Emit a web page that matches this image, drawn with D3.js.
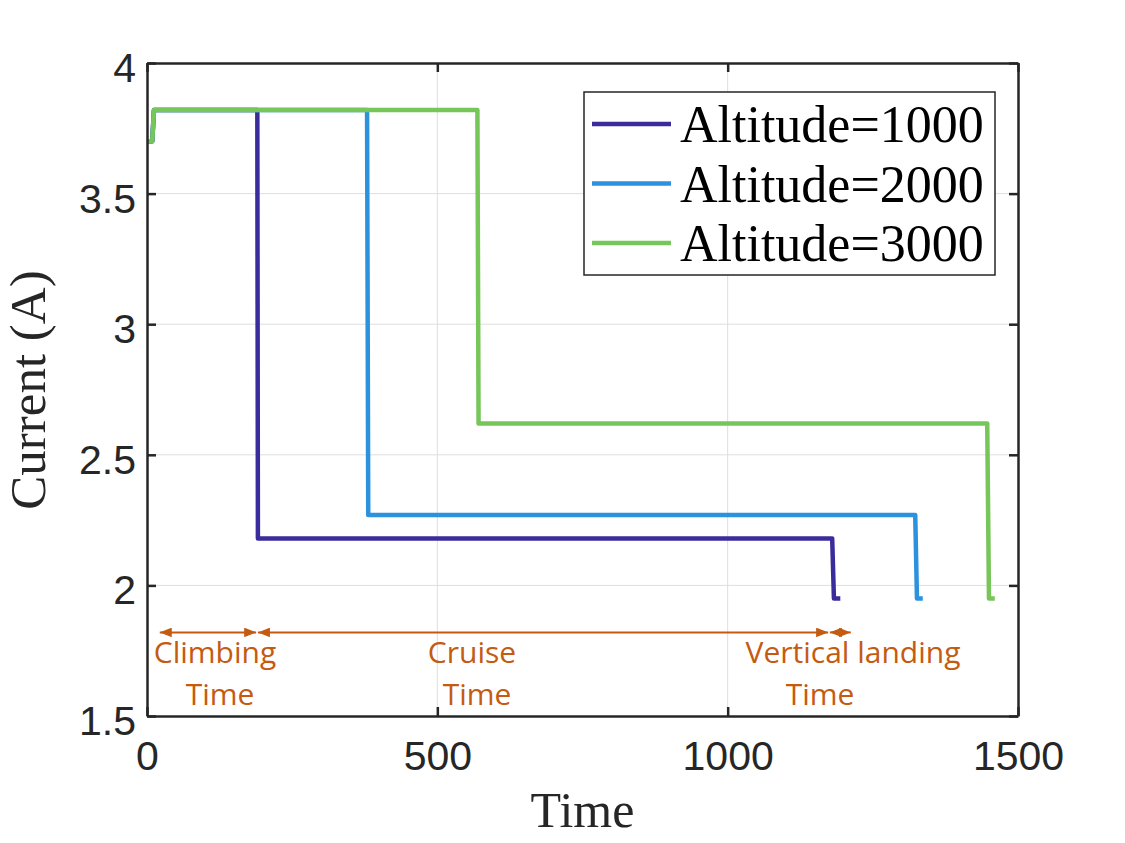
<!DOCTYPE html>
<html>
<head>
<meta charset="utf-8">
<script src="https://cdn.jsdelivr.net/npm/d3@7"></script>
<style>
  html, body { margin: 0; padding: 0; background: #fff; }
  svg { display: block; }
</style>
</head>
<body>
<div id="chart"></div>
<script>
// Series labels and colours
const seriesNames = ["Altitude=1000", "Altitude=2000", "Altitude=3000"];
const seriesColors = ["#3a2c9c", "#2d92dd", "#77c65a"];

// Time / current samples (step profiles)
const time1000 = [0, 9, 12, 190, 191, 1180, 1183, 1194];
const curr1000 = [3.70, 3.70, 3.82, 3.82, 2.18, 2.18, 1.95, 1.95];
const time2000 = [0, 9, 12, 379, 381, 1323, 1326, 1336];
const curr2000 = [3.70, 3.70, 3.82, 3.82, 2.27, 2.27, 1.95, 1.95];
const time3000 = [0, 9, 12, 569, 571, 1447, 1450, 1460];
const curr3000 = [3.70, 3.70, 3.82, 3.82, 2.62, 2.62, 1.95, 1.95];

// Axis ticks
const xTicks = [0, 500, 1000, 1500];
const yTicks = [1.5, 2, 2.5, 3, 3.5, 4];

// Phase annotations (arrow start/end in time units, label lines)
const phaseStart = [22, 191, 1176];
const phaseEnd = [188, 1173, 1212];
const phaseLabels = [["Climbing", "Time"], ["Cruise", "Time"], ["Vertical landing", "Time"]];

const W = 1125, H = 843;
const margin = {left: 147, top: 63, right: 107, bottom: 127};
const iw = W - margin.left - margin.right;
const ih = H - margin.top - margin.bottom;

const svg = d3.select("#chart").append("svg")
  .attr("width", W)
  .attr("height", H);

const g = svg.append("g")
  .attr("transform", `translate(${margin.left},${margin.top})`);

const x = d3.scaleLinear().domain([0, 1500]).range([0, iw]);
const y = d3.scaleLinear().domain([1.5, 4]).range([ih, 0]);

// grid
g.append("g").selectAll("line").data(xTicks.slice(1, -1)).enter()
  .append("line")
  .attr("x1", d => x(d)).attr("x2", d => x(d))
  .attr("y1", 0).attr("y2", ih)
  .attr("stroke", "#dedede").attr("stroke-width", 1);
g.append("g").selectAll("line").data(yTicks.slice(1, -1)).enter()
  .append("line")
  .attr("y1", d => y(d)).attr("y2", d => y(d))
  .attr("x1", 0).attr("x2", iw)
  .attr("stroke", "#dedede").attr("stroke-width", 1);

// series
const allSeries = [
  d3.zip(time1000, curr1000),
  d3.zip(time2000, curr2000),
  d3.zip(time3000, curr3000)
];
const line = d3.line().x(d => x(d[0])).y(d => y(d[1]));
g.append("g").selectAll("path").data(allSeries).enter()
  .append("path")
  .attr("d", line)
  .attr("fill", "none")
  .attr("stroke", (d, i) => seriesColors[i])
  .attr("stroke-width", 4.5)
  .attr("stroke-linejoin", "round")
  .attr("stroke-linecap", "butt");

// axes, matlab style box with inward ticks on all sides
const tickLen = 9;
const fmt = d => d3.format("")(d);
const xAxB = d3.axisBottom(x).tickValues(xTicks).tickSizeInner(-tickLen).tickSizeOuter(0).tickPadding(25).tickFormat(fmt);
const xAxT = d3.axisTop(x).tickValues(xTicks).tickSizeInner(-tickLen).tickSizeOuter(0).tickFormat("");
const yAxL = d3.axisLeft(y).tickValues(yTicks).tickSizeInner(-tickLen).tickSizeOuter(0).tickPadding(11).tickFormat(fmt);
const yAxR = d3.axisRight(y).tickValues(yTicks).tickSizeInner(-tickLen).tickSizeOuter(0).tickFormat("");

const axes = [
  g.append("g").attr("transform", `translate(0,${ih})`).call(xAxB),
  g.append("g").call(xAxT),
  g.append("g").call(yAxL),
  g.append("g").attr("transform", `translate(${iw},0)`).call(yAxR)
];
axes.forEach(a => {
  a.select(".domain").attr("stroke", "#262626").attr("stroke-width", 2.5);
  a.selectAll(".tick line").attr("stroke", "#262626").attr("stroke-width", 2.5);
  a.selectAll(".tick text")
    .attr("fill", "#262626")
    .attr("font-family", "'Liberation Sans', Arial, sans-serif")
    .attr("font-size", 41);
});
axes[2].selectAll(".tick text").attr("dy", "0.45em");

// axis titles
svg.append("text")
  .attr("x", margin.left + x(750))
  .attr("y", 827)
  .attr("text-anchor", "middle")
  .attr("font-family", "'Liberation Serif', 'Times New Roman', serif")
  .attr("font-size", 50)
  .attr("fill", "#262626")
  .text("Time");
svg.append("text")
  .attr("transform", `translate(45,${390}) rotate(-90)`)
  .attr("text-anchor", "middle")
  .attr("font-family", "'Liberation Serif', 'Times New Roman', serif")
  .attr("font-size", 51)
  .attr("fill", "#262626")
  .text("Current (A)");

// legend
const legend = svg.append("g").attr("transform", "translate(584,92)");
legend.append("rect")
  .attr("width", 411).attr("height", 183)
  .attr("fill", "#fff")
  .attr("stroke", "#262626").attr("stroke-width", 1.5);
const rows = legend.selectAll(".row").data(seriesNames).enter()
  .append("g")
  .attr("transform", (d, i) => `translate(0,${32 + i * 59.5})`);
rows.append("line")
  .attr("x1", 8).attr("x2", 87)
  .attr("stroke", (d, i) => seriesColors[i])
  .attr("stroke-width", 4.5);
rows.append("text")
  .attr("x", 96).attr("y", 18)
  .attr("font-family", "'Liberation Serif', 'Times New Roman', serif")
  .attr("font-size", 52)
  .attr("fill", "#000")
  .text(d => d);

// phase annotations
const orange = "#c55a11";
const defs = svg.append("defs");
defs.append("marker")
  .attr("id", "ah")
  .attr("viewBox", "0 0 10 8")
  .attr("refX", 10).attr("refY", 4)
  .attr("markerWidth", 6).attr("markerHeight", 4.8)
  .attr("markerUnits", "strokeWidth")
  .attr("orient", "auto-start-reverse")
  .append("path")
  .attr("d", "M0,0 L10,4 L0,8 Z")
  .attr("fill", orange);

const arrowY = y(1.82);
const ann = g.append("g");
ann.selectAll("line").data(phaseStart).enter()
  .append("line")
  .attr("x1", d => x(d))
  .attr("x2", (d, i) => x(phaseEnd[i]))
  .attr("y1", arrowY).attr("y2", arrowY)
  .attr("stroke", orange)
  .attr("stroke-width", 2)
  .attr("marker-start", "url(#ah)")
  .attr("marker-end", "url(#ah)");

const labelX = [215, 472, 853];
const labelX2 = [220, 477, 820];
const annFont = "'Open Sans', Lato, sans-serif";
phaseLabels.forEach((lab, i) => {
  svg.append("text")
    .attr("x", labelX[i]).attr("y", 663)
    .attr("text-anchor", "middle")
    .attr("font-family", annFont)
    .attr("font-size", 30)
    .attr("fill", orange)
    .text(lab[0]);
  svg.append("text")
    .attr("x", labelX2[i]).attr("y", 705)
    .attr("text-anchor", "middle")
    .attr("font-family", annFont)
    .attr("font-size", 30)
    .attr("fill", orange)
    .text(lab[1]);
});
</script>
</body>
</html>
